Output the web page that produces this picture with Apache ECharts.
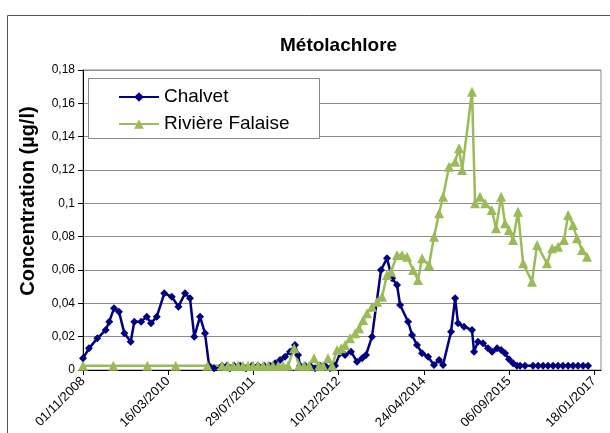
<!DOCTYPE html>
<html>
<head>
<meta charset="utf-8">
<script src="https://cdn.jsdelivr.net/npm/echarts@6/dist/echarts.min.js"></script>
<style>
  html, body { margin: 0; padding: 0; background: #fff; }
  #chart { width: 610px; height: 433px; }
</style>
</head>
<body>
<div id="chart"></div>
<script>
// dates, values in µg/l
var chalvetDates = ['2008-11-01','2008-12-06','2009-01-24','2009-03-14','2009-04-04','2009-05-02','2009-05-31','2009-07-02','2009-08-08','2009-08-29','2009-10-08','2009-11-10','2009-12-05','2010-01-08','2010-02-21','2010-04-06','2010-05-15','2010-06-23','2010-07-22','2010-08-16','2010-09-19','2010-10-18','2010-11-11',
  '2010-12-10','2011-01-26','2011-02-24','2011-03-14','2011-04-07','2011-05-12','2011-06-16','2011-07-21','2011-08-25','2011-09-30','2011-11-04','2011-12-03',
  '2012-01-02','2012-01-31','2012-02-29','2012-03-29','2012-04-16','2012-04-28','2012-05-27','2012-06-26','2012-07-25','2012-08-23','2012-09-22','2012-10-21','2012-11-19','2012-12-19',
  '2013-01-17','2013-02-21','2013-03-28','2013-04-27','2013-05-20','2013-06-24','2013-08-16','2013-09-20','2013-10-20','2013-11-18','2013-12-06',
  '2014-01-22','2014-02-14','2014-03-15','2014-04-14','2014-05-19','2014-06-23','2014-07-23','2014-08-15','2014-10-01','2014-10-25','2014-11-11','2014-12-16',
  '2015-02-01','2015-02-13','2015-03-08','2015-04-07','2015-05-06','2015-05-30','2015-06-28','2015-07-22','2015-08-14','2015-09-06','2015-09-30','2015-10-23','2015-11-10','2015-12-09',
  '2016-01-25','2016-02-24','2016-03-24','2016-04-22','2016-05-22','2016-06-20','2016-07-19','2016-08-18','2016-09-16','2016-10-15','2016-11-14','2016-12-13'];
var chalvetValues = [0.007,0.013,0.019,0.024,0.029,0.037,0.035,0.022,0.017,0.029,0.029,0.032,0.028,0.032,0.046,0.044,0.038,0.046,0.043,0.020,0.032,0.022,0.0025,
  0.001,0.0025,0.0025,0.001,0.0025,0.0025,0.001,0.0025,0.0025,0.0025,0.0025,0.004,
  0.006,0.008,0.011,0.015,0.009,0.0025,0.0025,0.0025,0.001,0.0025,0.0025,0.001,0.0025,0.010,
  0.009,0.011,0.005,0.007,0.009,0.020,0.060,0.067,0.055,0.051,0.039,
  0.029,0.021,0.015,0.010,0.008,0.003,0.006,0.003,0.023,0.043,0.028,0.026,
  0.024,0.011,0.017,0.016,0.013,0.011,0.013,0.012,0.010,0.0065,0.004,0.0025,0.0025,0.0025,
  0.0025,0.0025,0.0025,0.0025,0.0025,0.0025,0.0025,0.0025,0.0025,0.0025,0.0025,0.0025];

var falaiseDates = ['2008-11-01','2009-04-28','2009-11-14','2010-04-29','2010-11-01',
  '2011-01-26','2011-03-02','2011-04-01','2011-04-30','2011-05-29','2011-06-28','2011-07-27','2011-08-25','2011-09-24','2011-10-23','2011-11-21','2011-12-21',
  '2012-01-19','2012-02-17','2012-03-24','2012-04-22','2012-05-22','2012-06-20','2012-07-19','2012-08-18','2012-09-10','2012-10-09','2012-11-02','2012-12-01','2012-12-25',
  '2013-01-17','2013-02-15','2013-03-17','2013-04-09','2013-05-03','2013-05-26','2013-06-24','2013-07-24','2013-08-22','2013-09-20','2013-10-14','2013-11-18','2013-12-17',
  '2014-01-16','2014-02-20','2014-03-21','2014-04-14','2014-05-25','2014-06-23','2014-07-23','2014-08-15','2014-09-19','2014-10-25','2014-11-17','2014-12-05',
  '2015-02-01','2015-02-19','2015-03-20','2015-04-19','2015-05-28','2015-06-22','2015-07-22','2015-08-14','2015-09-06','2015-09-30','2015-10-29','2015-11-28',
  '2016-01-19','2016-02-18','2016-04-16','2016-05-16','2016-06-20','2016-07-25','2016-08-18','2016-09-16','2016-10-09','2016-11-08','2016-12-07'];
var falaiseValues = [0.0025,0.0025,0.0025,0.0025,0.0025,
  0.0025,0.0025,0.0025,0.0025,0.0025,0.0025,0.0025,0.0025,0.0025,0.0025,0.0025,0.0025,
  0.0025,0.0025,0.013,0.0025,0.0025,0.0025,0.007,0.0025,0.0025,0.007,0.0025,0.012,0.013,
  0.015,0.019,0.022,0.025,0.030,0.034,0.038,0.041,0.044,0.057,0.059,0.069,0.069,
  0.068,0.060,0.054,0.067,0.063,0.080,0.094,0.104,0.122,0.125,0.133,0.120,
  0.167,0.100,0.104,0.100,0.096,0.085,0.104,0.088,0.084,0.078,0.095,0.064,
  0.053,0.075,0.064,0.073,0.074,0.078,0.093,0.087,0.079,0.072,0.068];

// x axis: days counted from 01/11/2008, a tick every 500 days
var startDate = '2008-11-01';
var xTickDays = [0, 500, 1000, 1500, 2000, 2500, 3000];
var xMaxDays = 3040;

var DAY = 86400000;
var t0 = Date.parse(startDate);
function toDays(s) { return (Date.parse(s) - t0) / DAY; }
function pad(n) { return n < 10 ? '0' + n : '' + n; }
function dayLabel(v) {
  var d = new Date(t0 + Math.round(v) * DAY);
  return pad(d.getUTCDate()) + '/' + pad(d.getUTCMonth() + 1) + '/' + d.getUTCFullYear();
}
function pairs(dates, vals) {
  var out = [];
  for (var i = 0; i < dates.length; i++) out.push([toDays(dates[i]), vals[i]]);
  return out;
}

var font = 'Arial, "Liberation Sans", sans-serif';
var chart = echarts.init(document.getElementById('chart'));
chart.setOption({
  animation: false,
  backgroundColor: '#fff',
  title: {
    text: 'Métolachlore',
    left: 275,
    top: 31,
    textStyle: { fontFamily: font, fontSize: 19, fontWeight: 'bold', color: '#000' }
  },
  graphic: [
    { type: 'rect', z: 0, shape: { x: 7.5, y: 15.5, width: 700, height: 500 },
      style: { fill: null, stroke: '#555', lineWidth: 1 } },
    { type: 'rect', z: 3, shape: { x: 88.5, y: 78.5, width: 231, height: 60 },
      style: { fill: '#fff', stroke: '#888', lineWidth: 1 } },
    { type: 'text', z: 3, x: 28, y: 201, rotation: Math.PI / 2,
      style: { text: 'Concentration (µg/l)', font: 'bold 20px ' + font, fill: '#000',
               textAlign: 'center', textVerticalAlign: 'middle' } }
  ],
  legend: {
    left: 118,
    top: 87,
    orient: 'vertical',
    itemWidth: 40,
    itemHeight: 12,
    itemGap: 7,
    padding: 0,
    z: 5,
    textStyle: { fontFamily: font, fontSize: 19, color: '#000', lineHeight: 20 },
    data: ['Chalvet', 'Rivière Falaise']
  },
  grid: {
    left: 83, right: 9, top: 70, bottom: 63,
    show: true, borderColor: '#888', borderWidth: 1
  },
  xAxis: {
    type: 'value',
    min: 0,
    max: xMaxDays,
    interval: 500,
    axisLine: { lineStyle: { color: '#000', width: 1 } },
    axisTick: { customValues: xTickDays, length: 5, lineStyle: { color: '#000' } },
    splitLine: { show: false },
    axisLabel: {
      customValues: xTickDays,
      rotate: 45,
      margin: 9,
      fontFamily: font,
      fontSize: 13,
      color: '#000',
      formatter: dayLabel
    }
  },
  yAxis: {
    type: 'value',
    min: 0,
    max: 0.18,
    interval: 0.02,
    axisLine: { show: true, lineStyle: { color: '#000', width: 1 } },
    axisTick: { show: true, length: 5, lineStyle: { color: '#000' } },
    splitLine: { lineStyle: { color: '#8c8c8c', width: 1 } },
    axisLabel: {
      margin: 8,
      fontFamily: font,
      fontSize: 12,
      color: '#000',
      formatter: function (v) {
        return String(parseFloat(v.toFixed(2))).replace('.', ',');
      }
    }
  },
  series: [
    {
      name: 'Chalvet',
      type: 'line',
      data: pairs(chalvetDates, chalvetValues),
      symbol: 'diamond',
      symbolSize: 8,
      showAllSymbol: true,
      color: '#000080',
      lineStyle: { width: 2.5, color: '#000080' },
      itemStyle: { color: '#000080' }
    },
    {
      name: 'Rivière Falaise',
      type: 'line',
      data: pairs(falaiseDates, falaiseValues),
      symbol: 'triangle',
      symbolSize: 10,
      showAllSymbol: true,
      color: '#9BBB59',
      lineStyle: { width: 2.5, color: '#9BBB59' },
      itemStyle: { color: '#9BBB59' }
    }
  ]
});
</script>
</body>
</html>
